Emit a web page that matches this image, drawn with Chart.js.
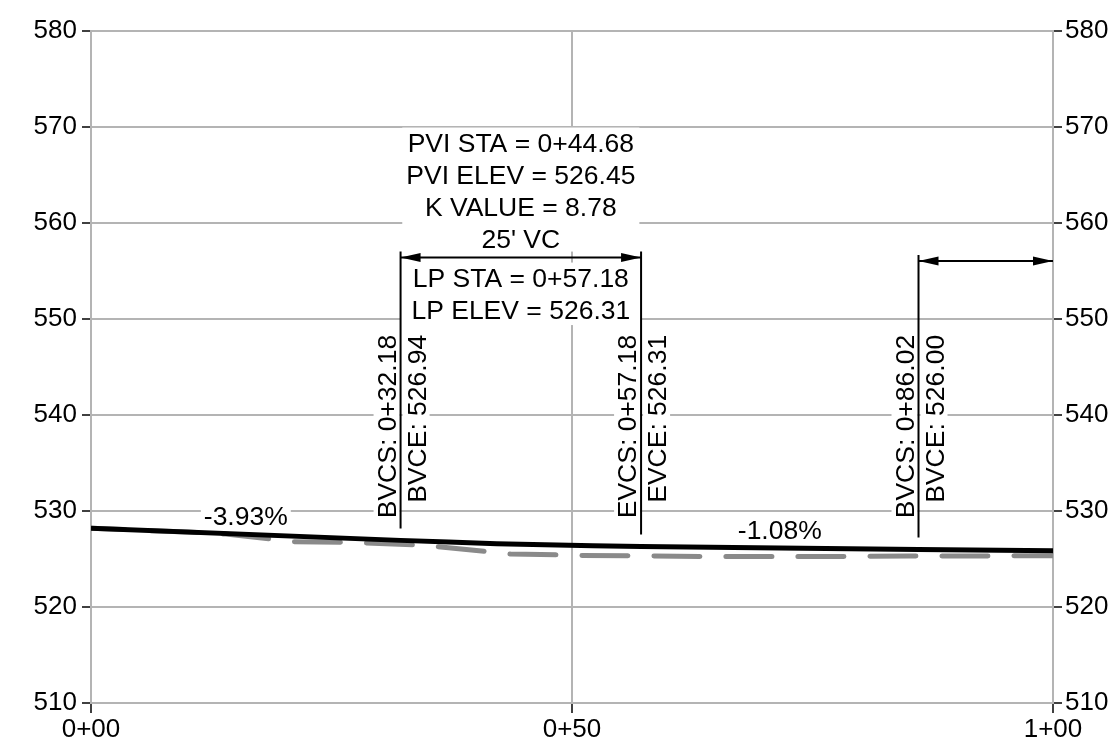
<!DOCTYPE html>
<html><head><meta charset="utf-8">
<script src="https://cdn.jsdelivr.net/npm/chart.js@4.4.0/dist/chart.umd.min.js"></script>
<style>html,body{margin:0;padding:0;background:#fff;}#wrap{width:1110px;height:749px;}</style>
</head><body><div id="wrap"><canvas id="c" width="1110" height="749"></canvas></div>
<script>
// ---- data ----
const xTickValues = [0, 50, 100];
const xTickLabels = ['0+00', '0+50', '1+00'];
const yTickValues = [510, 520, 530, 540, 550, 560, 570, 580];
const profileStations = [0, 32.18, 37.18, 42.18, 47.18, 52.18, 57.18, 86.02, 100];
const profileElevs = [528.21, 526.94, 526.76, 526.60, 526.48, 526.38, 526.31, 526.00, 525.85];
const groundStations = [0, 10, 14, 19, 21, 26.4, 28.5, 33.9, 36, 41.3, 43.6, 48.9, 51, 56.3, 65, 75, 85, 100];
const groundElevs = [528.21, 527.80, 527.60, 527.05, 526.80, 526.75, 526.67, 526.46, 526.28, 525.76, 525.52, 525.42, 525.36, 525.33, 525.25, 525.25, 525.30, 525.34];
const markStations = [32.18, 57.18, 86.02];
const markElevs = [526.94, 526.31, 526.00];
const markNames = ['BVC', 'EVC', 'BVC'];
const gradeStations = [16.09, 71.60];
const gradeLabels = ['-3.93%', '-1.08%'];
const pviStation = 44.68;
const pviLines = ['PVI STA = 0+44.68', 'PVI ELEV = 526.45', 'K VALUE = 8.78', "25' VC"];
const lpLines = ['LP STA = 0+57.18', 'LP ELEV = 526.31'];
const dimStarts = [32.18, 86.02];
const dimEnds = [57.18, 100];
const dimElevs = [556.40, 556.05];
const labelTopElev = 548.35;

const FONT = '"Liberation Sans", Arial, sans-serif';
const GRID = '#b4b4b4';

function fmtSta(v) {
  const whole = Math.floor(v / 100);
  const rest = v - whole * 100;
  return whole + '+' + (rest < 10 ? '0' : '') + rest.toFixed(2);
}
function interp(xs, ys, v) {
  for (let i = 0; i < xs.length - 1; i++) {
    if (v >= xs[i] && v <= xs[i + 1]) {
      const t = (v - xs[i]) / (xs[i + 1] - xs[i]);
      return ys[i] + t * (ys[i + 1] - ys[i]);
    }
  }
  return ys[ys.length - 1];
}

const annot = {
  id: 'annot',
  beforeDatasetsDraw(chart) {
    const ctx = chart.ctx, xs = chart.scales.x, ys = chart.scales.y;
    const X = v => xs.getPixelForValue(v), Y = v => ys.getPixelForValue(v);
    ctx.save();
    ctx.font = '26.5px ' + FONT;
    const boxes = [], texts = [];
    const white = (x0, y0, x1, y1) => boxes.push([x0, y0, x1, y1]);
    const arrowY = dimElevs.map(Y);
    const gap = 32;

    // PVI block
    const cx = X(pviStation);
    const pw = Math.max(...pviLines.map(t => ctx.measureText(t).width));
    const pBase = arrowY[0] - 10 - gap * (pviLines.length - 1);
    white(cx - pw / 2 - 4, pBase - 24, cx + pw / 2 + 4, arrowY[0] - 6);
    pviLines.forEach((t, i) => texts.push({t, x: cx, y: pBase + i * gap, align: 'center'}));
    // LP block
    const lBase = arrowY[0] + 29.5;
    white(X(dimStarts[0]), arrowY[0] + 5, X(dimEnds[0]), lBase + gap * (lpLines.length - 1) + 6);
    lpLines.forEach((t, i) => texts.push({t, x: cx, y: lBase + i * gap, align: 'center'}));

    // grade labels
    gradeLabels.forEach((t, i) => {
      const gx = X(gradeStations[i]);
      const gy = Y(interp(profileStations, profileElevs, gradeStations[i])) - 18.5;
      const w = ctx.measureText(t).width;
      white(gx - w / 2 - 3, gy - 13, gx + w / 2 + 3, gy + 13);
      texts.push({t, x: gx, y: gy + 9.5, align: 'center'});
    });

    // mark labels
    const topY = Y(labelTopElev);
    const rot = [];
    markStations.forEach((s, i) => {
      const lx = X(s);
      const a = markNames[i] + 'S: ' + fmtSta(s);
      const b = markNames[i] + 'E: ' + markElevs[i].toFixed(2);
      const wa = ctx.measureText(a).width, wb = ctx.measureText(b).width;
      white(lx - 27, topY - 3, lx - 1, topY + wa + 3);
      white(lx + 2, topY - 3, lx + 29, topY + wb + 3);
      rot.push({t: a, x: lx - 5, y: topY});
      rot.push({t: b, x: lx + 25, y: topY});
    });

    ctx.fillStyle = '#fff';
    boxes.forEach(b => ctx.fillRect(b[0], b[1], b[2] - b[0], b[3] - b[1]));

    ctx.fillStyle = '#000';
    ctx.textBaseline = 'alphabetic';
    texts.forEach(o => { ctx.textAlign = o.align; ctx.fillText(o.t, o.x, o.y); });
    rot.forEach(o => {
      ctx.save();
      ctx.translate(o.x, o.y);
      ctx.rotate(-Math.PI / 2);
      ctx.textAlign = 'right';
      ctx.fillText(o.t, 0, 0);
      ctx.restore();
    });

    // vertical mark lines
    ctx.strokeStyle = '#000';
    ctx.lineWidth = 2;
    markStations.forEach((s, i) => {
      let k = 0;
      dimStarts.forEach((d, j) => { if (Math.abs(d - s) < 1e-6 || Math.abs(dimEnds[j] - s) < 1e-6) k = j; });
      const lx = X(s);
      ctx.beginPath();
      ctx.moveTo(lx, arrowY[k] - 6);
      ctx.lineTo(lx, Y(markElevs[i]) - 12);
      ctx.stroke();
    });

    // dimension arrows
    dimStarts.forEach((s, j) => {
      const x0 = X(s), x1 = X(dimEnds[j]), y = arrowY[j];
      ctx.beginPath();
      ctx.moveTo(x0, y); ctx.lineTo(x1, y);
      ctx.stroke();
      ctx.beginPath();
      ctx.moveTo(x0, y); ctx.lineTo(x0 + 20, y - 4.5); ctx.lineTo(x0 + 20, y + 4.5); ctx.closePath();
      ctx.moveTo(x1, y); ctx.lineTo(x1 - 20, y - 4.5); ctx.lineTo(x1 - 20, y + 4.5); ctx.closePath();
      ctx.fill();
    });
    ctx.restore();
  }
};

const tickFont = {size: 26, family: FONT};
const yCommon = {
  type: 'linear', min: 510, max: 580,
  afterBuildTicks: s => { s.ticks = yTickValues.map(v => ({value: v})); },
  ticks: {font: tickFont, color: '#000', autoSkip: false},
  border: {color: GRID, width: 2}
};

new Chart(document.getElementById('c'), {
  type: 'line',
  data: {
    datasets: [
      {
        data: profileStations.map((s, i) => ({x: s, y: profileElevs[i]})),
        borderColor: '#000', borderWidth: 5, pointRadius: 0, tension: 0, order: 0,
        yAxisID: 'y'
      },
      {
        data: groundStations.map((s, i) => ({x: s, y: groundElevs[i]})),
        borderColor: '#8a8a8a', borderWidth: 5, borderDash: [46, 26], borderDashOffset: 12,
        borderCapStyle: 'round', borderJoinStyle: 'round', pointRadius: 0, tension: 0, order: 1,
        yAxisID: 'y'
      }
    ]
  },
  options: {
    responsive: false, animation: false, devicePixelRatio: 1,
    layout: {padding: {top: 31, left: 0, right: 0, bottom: 0}},
    plugins: {legend: {display: false}, tooltip: {enabled: false}},
    scales: {
      x: {
        type: 'linear', min: 0, max: 100,
        afterBuildTicks: s => { s.ticks = xTickValues.map(v => ({value: v})); },
        afterFit: s => { s.height = 46; },
        ticks: {font: tickFont, color: '#000', padding: 1, maxRotation: 0, autoSkip: false,
                callback: v => xTickLabels[xTickValues.indexOf(v)]},
        grid: {color: GRID, lineWidth: 2, tickColor: '#000', tickLength: 10, tickWidth: 1.5},
        border: {color: GRID, width: 2}
      },
      y: Object.assign({}, yCommon, {
        position: 'left',
        afterFit: s => { s.width = 91; },
        ticks: Object.assign({}, yCommon.ticks, {padding: 5}),
        grid: {color: GRID, lineWidth: 2, tickColor: '#000', tickLength: 9, tickWidth: 1.5}
      }),
      y2: Object.assign({}, yCommon, {
        position: 'right',
        afterFit: s => { s.width = 57; },
        ticks: Object.assign({}, yCommon.ticks, {padding: 3}),
        grid: {drawOnChartArea: false, color: GRID, lineWidth: 2, tickColor: '#000', tickLength: 9, tickWidth: 1.5}
      })
    }
  },
  plugins: [annot]
});
</script>
</body></html>
